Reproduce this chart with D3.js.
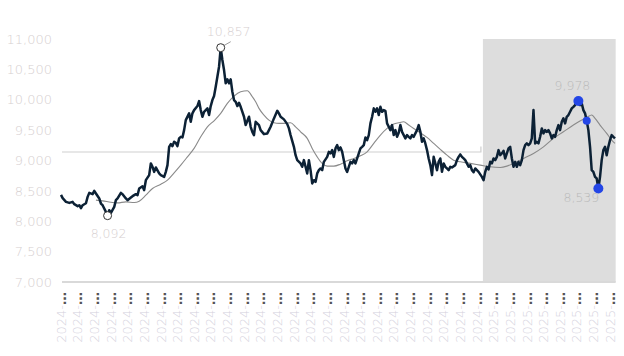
<!DOCTYPE html>
<html><head><meta charset="utf-8">
<script src="https://cdn.jsdelivr.net/npm/d3@7"></script>
<style>body{margin:0;background:#fff}svg{display:block}</style>
</head><body><svg id="c" width="624" height="356"></svg>
<script>
// trading-day index, close value
const closeSeries = [[0,8435],[1,8380],[3,8319],[5,8302],[7,8319],[8,8281],[10,8248],[11,8264],[12,8215],[13,8264],[15,8297],[16,8401],[17,8467],[19,8446],[20,8500],[21,8457],[23,8375],[24,8292],[25,8264],[27,8154],[28,8092],[29,8182],[30,8137],[32,8236],[33,8347],[34,8375],[36,8467],[37,8446],[39,8375],[40,8347],[42,8391],[43,8413],[45,8446],[46,8429],[47,8540],[49,8577],[50,8512],[51,8676],[53,8759],[54,8952],[55,8896],[56,8813],[57,8886],[59,8787],[60,8759],[62,8731],[63,8813],[64,8924],[65,9225],[66,9270],[67,9237],[68,9308],[69,9291],[70,9237],[71,9364],[72,9390],[73,9380],[74,9500],[75,9665],[77,9776],[78,9637],[79,9776],[80,9830],[82,9896],[83,9978],[84,9830],[85,9720],[86,9802],[88,9858],[89,9748],[90,9896],[91,9995],[92,10061],[93,10214],[94,10379],[95,10544],[96,10857],[97,10654],[98,10489],[99,10270],[100,10336],[101,10270],[102,10336],[103,10132],[104,9995],[105,9967],[106,9896],[107,9950],[108,9884],[110,9720],[111,9583],[113,9720],[114,9555],[115,9472],[116,9418],[117,9637],[119,9583],[120,9500],[122,9434],[124,9446],[125,9500],[126,9555],[128,9693],[130,9818],[131,9776],[132,9720],[134,9677],[136,9599],[137,9528],[138,9418],[140,9225],[141,9088],[142,9006],[144,8952],[145,8896],[146,9006],[147,8896],[148,8787],[149,9006],[150,8841],[151,8622],[152,8676],[153,8648],[154,8787],[155,8841],[156,8869],[157,8841],[158,8978],[160,9060],[161,9143],[162,9116],[163,9171],[164,9060],[165,9199],[166,9253],[167,9171],[168,9215],[169,9143],[170,9006],[171,8869],[172,8813],[173,8896],[174,8978],[175,8952],[176,9006],[177,8952],[178,9034],[179,9116],[180,9199],[181,9225],[182,9253],[183,9380],[184,9336],[185,9418],[186,9611],[187,9720],[188,9858],[189,9802],[190,9858],[191,9748],[192,9884],[193,9802],[194,9830],[195,9818],[196,9611],[197,9555],[198,9500],[199,9583],[200,9418],[201,9500],[202,9390],[203,9456],[204,9583],[205,9472],[206,9418],[207,9364],[208,9418],[209,9390],[210,9364],[211,9418],[212,9390],[213,9446],[214,9500],[215,9583],[216,9472],[217,9308],[218,9364],[219,9281],[220,9171],[221,9034],[222,8924],[223,8759],[224,9060],[225,8952],[226,8841],[227,8978],[228,9034],[229,8813],[230,8952],[231,8896],[232,8869],[233,8841],[234,8896],[235,8886],[237,8924],[238,9006],[239,9060],[240,9100],[241,9060],[242,9034],[243,9006],[244,8952],[245,8896],[246,8924],[247,8841],[248,8808],[249,8869],[251,8813],[253,8731],[254,8676],[255,8813],[256,8896],[257,8853],[258,8978],[259,8952],[260,9034],[261,9006],[262,9060],[263,9171],[264,9088],[265,9116],[266,9159],[267,9034],[268,9116],[269,9199],[270,9225],[271,9034],[272,8896],[273,8978],[274,8896],[275,8978],[276,8924],[277,9006],[278,9171],[279,9253],[280,9281],[281,9253],[282,9281],[283,9364],[284,9830],[285,9281],[286,9308],[287,9281],[288,9390],[289,9528],[290,9446],[291,9500],[292,9472],[293,9500],[294,9446],[295,9364],[296,9418],[297,9390],[298,9500],[299,9583],[300,9500],[301,9637],[302,9693],[303,9611],[304,9720],[305,9748],[306,9802],[307,9858],[308,9884],[309,9912],[310,9967],[311,9978],[312,9912],[313,9940],[314,9830],[315,9776],[316,9654],[317,9500],[318,9225],[319,8841],[320,8813],[321,8731],[322,8704],[323,8539],[324,8731],[325,9006],[326,9171],[327,9225],[328,9088],[329,9225],[330,9336],[331,9418],[332,9390],[333,9364]];

// moving average (trading-day index, value)
const maSeries = [[21,8347],[25,8335],[30,8314],[34,8302],[39,8319],[44,8309],[47,8330],[51,8429],[55,8540],[60,8610],[64,8676],[68,8797],[72,8924],[76,9060],[80,9199],[84,9390],[88,9555],[92,9654],[96,9776],[100,9940],[104,10061],[108,10132],[112,10148],[115,10049],[117,9967],[119,9858],[122,9748],[125,9665],[128,9621],[131,9611],[134,9611],[138,9621],[141,9555],[144,9472],[148,9364],[151,9199],[154,9060],[157,8952],[160,8907],[164,8907],[168,8940],[172,8994],[176,9034],[180,9077],[184,9143],[188,9281],[192,9418],[196,9528],[200,9599],[203,9621],[206,9637],[209,9583],[212,9528],[216,9456],[220,9380],[224,9281],[228,9182],[232,9088],[236,9006],[240,8978],[246,8952],[252,8924],[258,8896],[264,8886],[268,8907],[272,8952],[278,9034],[284,9116],[290,9225],[296,9364],[302,9472],[308,9583],[313,9665],[316,9710],[319,9748],[321,9693],[324,9583],[328,9446],[331,9336],[333,9281]];

const yTicks = [7000,7500,8000,8500,9000,9500,10000,10500,11000];
const xTickDays = [0,10,20,30,40,50,60,70,80,90,100,110,120,130,140,150,160,170,180,190,200,210,220,230,240,250,260,270,280,290,300,310,320,330];
const xTickLabels = ["2024-01-02","2024-01-16","2024-01-30","2024-02-13","2024-02-27","2024-03-12","2024-03-26","2024-04-09","2024-04-23","2024-05-07","2024-05-21","2024-06-04","2024-06-18","2024-07-02","2024-07-16","2024-07-30","2024-08-13","2024-08-27","2024-09-10","2024-09-24","2024-10-08","2024-10-22","2024-11-05","2024-11-19","2024-12-03","2024-12-17","2025-01-02","2025-01-16","2025-01-30","2025-02-13","2025-02-27","2025-03-13","2025-03-27","2025-04-10"];

const refLevel = 9140;          // horizontal reference level for 2024
const refLevelEndStep = 9230;   // small step at end of reference
const refRange = [0.6, 252.4];
const shadeRange = [253.6, 333.4];

const hollowMarks = [[96,10857],[28,8092]];
const blueMarks = [[311,9978,5],[316,9654,4],[323,8539,5]];
const markLabels = [
  {day:96, value:10857, text:"10,857", dx:8, dy:-12},
  {day:28, value:8092, text:"8,092", dx:1, dy:22},
  {day:311, value:9978, text:"9,978", dx:-6, dy:-11},
  {day:323, value:8539, text:"8,539", dx:-17, dy:13}
];

const svg = d3.select("#c");
const x = d3.scaleLinear().domain([0,333]).range([61,615]);
const y = d3.scaleLinear().domain([7000,11000]).range([282,39]);

const FONT = "'DejaVu Sans', sans-serif";
const LABEL = "#d6cfd0";

// shaded period
svg.append("rect")
  .attr("x", x(shadeRange[0])).attr("y", y(11000))
  .attr("width", x(shadeRange[1]) - x(shadeRange[0]))
  .attr("height", y(7000) - y(11000))
  .attr("fill", "#dddddd");

// baseline
svg.append("line")
  .attr("x1", x(0.6)).attr("x2", x(333.4))
  .attr("y1", y(7000)).attr("y2", y(7000))
  .attr("stroke", "#d9d9d9").attr("stroke-width", 2);

// reference line
svg.append("path")
  .attr("d", `M${x(refRange[0])},${y(refLevel)}H${x(refRange[1])}V${y(refLevelEndStep)}`)
  .attr("fill","none").attr("stroke","#cfcfcf").attr("stroke-width",1.2);

// y labels
svg.append("g").selectAll("text").data(yTicks).join("text")
  .attr("x", 52).attr("y", d => y(d)).attr("dy","0.36em")
  .attr("text-anchor","end")
  .attr("font-family", FONT).attr("font-weight", 200).attr("font-size", 13)
  .attr("fill", LABEL)
  .text(d => d3.format(",")(d));

// x labels
const xl = svg.append("g").selectAll("g").data(xTickDays).join("g")
  .attr("transform", d => `translate(${x(d)},292) rotate(-90)`);
xl.append("line").attr("x1",-8).attr("x2",-14).attr("y1",0).attr("y2",0)
  .attr("stroke","none");
const xt = xl.append("text")
  .attr("text-anchor","end").attr("dy","0.36em")
  .attr("font-family", FONT).attr("font-weight", 200).attr("font-size", 13);
xt.append("tspan").attr("fill", "#d3d0dc").text((d,i) => xTickLabels[i].slice(0,5));
xt.append("tspan").attr("fill", "#555").attr("font-weight", 700).text("\u2026");

// moving average
svg.append("path").datum(maSeries)
  .attr("fill","none").attr("stroke","#8a8a8a").attr("stroke-width",1.1)
  .attr("d", d3.line().x(d=>x(d[0])).y(d=>y(d[1])).curve(d3.curveMonotoneX));

// main line
svg.append("path").datum(closeSeries)
  .attr("fill","none").attr("stroke","#0c2135").attr("stroke-width",2.5)
  .attr("stroke-linejoin","round")
  .attr("d", d3.line().x(d=>x(d[0])).y(d=>y(d[1])));

// leader for max
svg.append("line")
  .attr("x1", x(96)+3).attr("y1", y(10857)-2)
  .attr("x2", x(96)+10).attr("y2", y(10857)-6)
  .attr("stroke","#9a9a9a").attr("stroke-width",1);

svg.append("g").selectAll("circle").data(hollowMarks).join("circle")
  .attr("cx", d=>x(d[0])).attr("cy", d=>y(d[1])).attr("r", 4)
  .attr("fill","#fff").attr("stroke","#333").attr("stroke-width",1);

svg.append("g").selectAll("circle").data(blueMarks).join("circle")
  .attr("cx", d=>x(d[0])).attr("cy", d=>y(d[1])).attr("r", d=>d[2])
  .attr("fill","#2446e6");

svg.append("g").selectAll("text").data(markLabels).join("text")
  .attr("x", d=>x(d.day)+d.dx).attr("y", d=>y(d.value)+d.dy)
  .attr("text-anchor","middle")
  .attr("font-family", FONT).attr("font-weight", 200).attr("font-size", 12.5)
  .attr("fill", d => d.day > 300 ? "#b9b9b9" : LABEL)
  .text(d=>d.text);
</script>
</body></html>
